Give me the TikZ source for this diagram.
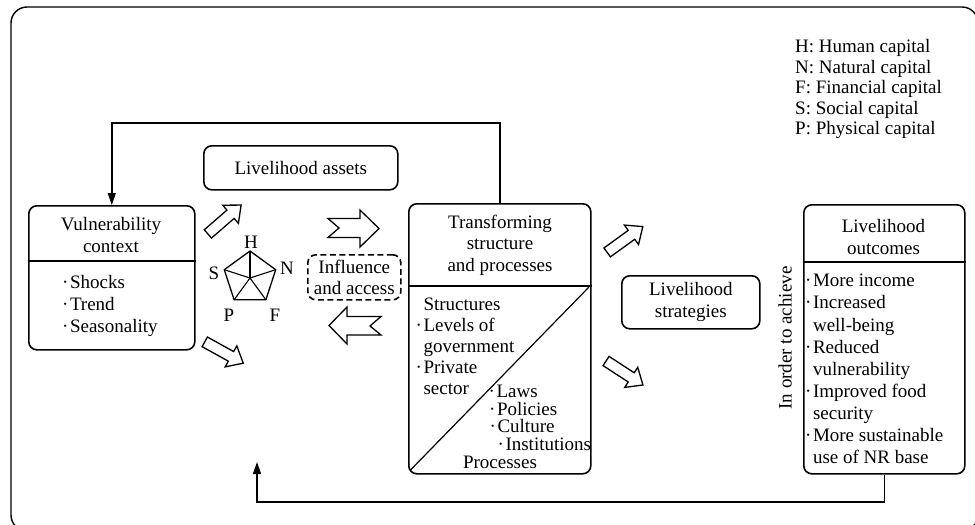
\documentclass[tikz,border=0pt]{standalone}
\usepackage{fontspec}
\setmainfont{Liberation Serif}
\usetikzlibrary{arrows.meta,calc}
\newcommand\bul{·\hspace{1.5pt}}
\newcommand\ind{\phantom{\bul}}
\begin{document}
\begin{tikzpicture}[x=1pt,y=-1pt,
  boxst/.style={draw,line width=1.6pt,rounded corners=8pt,inner sep=0pt,anchor=north west},
  txt/.style={font=\fontsize{19}{22}\selectfont,inner sep=0pt},
  conn/.style={line width=1.4pt},
  tipst/.style={-{Triangle[length=12pt,width=8pt]}},
  barrow/.style={draw,line width=1.3pt,fill=white,line join=miter},
  blockarr/.pic={\draw[barrow] (-22,-5.5) -- (8,-5.5) -- (8,-12) -- (22,0) -- (8,12) -- (8,5.5) -- (-22,5.5) -- cycle;}
]
\useasboundingbox (0,0) rectangle (975,525);
% outer frame
\draw[line width=1.4pt,rounded corners=16pt] (11,7) rectangle (978,531);

% boxes
\node[boxst,minimum width=194pt,minimum height=44pt] (assets) at (203,145) {};
\node[txt] (assetst) at (assets.center) {Livelihood assets};

\node[boxst,minimum width=166pt,minimum height=144pt] (vul) at (28,205) {};
\draw[line width=1.4pt] (vul.west |- 0,261) -- (vul.east |- 0,261);
\node[txt,align=center] (vult) at (111,235) {Vulnerability\\context};
\node[txt,align=left,anchor=west] (vull) at (62,306) {\bul Shocks\\\bul Trend\\\bul Seasonality};

\node[boxst,dashed,dash pattern=on 6pt off 3.5pt,minimum width=93pt,minimum height=45pt] (infl) at (307,254) {};
\node[txt,align=center,font=\fontsize{19}{21}\selectfont] (inflt) at (infl.center) {Influence\\and access};

\node[boxst,minimum width=182pt,minimum height=270pt] (trans) at (408,203) {};
\draw[line width=1.4pt] (trans.west |- 0,286) -- (trans.east |- 0,286);
\draw[line width=1.2pt] (410.5,470) -- (589,287);
\node[txt,align=center,font=\fontsize{19}{21.5}\selectfont] (transt) at (500,245) {Transforming\\structure\\and processes};
\node[txt,align=left,anchor=west,font=\fontsize{19}{21}\selectfont] (struct) at (415.5,346) {\ind Structures\\\bul Levels of\\\ind government\\\bul Private\\\ind sector};
\node[txt,align=left,anchor=west,font=\fontsize{19}{17.6}\selectfont] (proclist) at (488.5,418) {\bul Laws\\\hspace*{0.5pt}\bul Policies\\\hspace*{1pt}\bul Culture\\\hspace*{9pt}\bul Institutions};
\node[txt] (proc) at (500,462) {Processes};

\node[boxst,minimum width=138pt,minimum height=53pt] (strat) at (621,275) {};
\node[txt,align=center] (stratt) at (strat.center) {Livelihood\\strategies};

\node[boxst,minimum width=161pt,minimum height=269pt] (out) at (803,204) {};
\draw[line width=1.4pt] (out.west |- 0,262) -- (out.east |- 0,262);
\node[txt,align=center] (outt) at (883.5,237) {Livelihood\\outcomes};
\node[txt,align=left,anchor=west,font=\fontsize{19}{22.1}\selectfont] (outl) at (805,369) {\bul More income\\\bul Increased\\\ind well-being\\\bul Reduced\\\ind vulnerability\\\bul Improved food\\\ind security\\\bul More sustainable\\\ind use of NR base};
\node[txt,rotate=90] (order) at (785,338) {In order to achieve};

% legend
\node[txt,align=left,anchor=west,font=\fontsize{19}{20.5}\selectfont] (legend) at (795,89) {H: Human capital\\N: Natural capital\\F: Financial capital\\S: Social capital\\P: Physical capital};

% pentagon
\coordinate (pc) at (250,278);
\coordinate (pH) at (250,251);
\coordinate (pN) at (275.7,269.7);
\coordinate (pF) at (265.9,299.8);
\coordinate (pP) at (234.1,299.8);
\coordinate (pS) at (224.3,269.7);
\draw[line width=1.3pt,line join=round] (pH) -- (pN) -- (pF) -- (pP) -- (pS) -- cycle;
\foreach \v in {pH,pN,pF,pP,pS} \draw[line width=1.1pt] (pc) -- (\v);
\node[txt] (lH) at (251,242) {H};
\node[txt] (lN) at (287,268) {N};
\node[txt] (lF) at (275,315) {F};
\node[txt] (lP) at (229,315) {P};
\node[txt] (lS) at (214,273) {S};

% block arrows
\pic[rotate=41] at (224.5,219.5) {blockarr};
\pic[rotate=-29] at (224,352.5) {blockarr};
\pic[rotate=36] at (625,239.5) {blockarr};
\pic[rotate=-33] at (624.5,373) {blockarr};
\draw[barrow] (328,218.5) -- (360,218.5) -- (360,210) -- (379,228.5) -- (360,247) -- (360,237.5) -- (328,237.5) -- (339,228) -- cycle;
\draw[barrow] (381,316.5) -- (347,316.5) -- (347,307) -- (329,325.5) -- (347,344) -- (347,335) -- (381,335) -- (370,326) -- cycle;

% connectors
\draw[conn,tipst] (trans.north) -- (trans.north |- 0,123) -| (vul.north);
\coordinate (fb) at (257,462);
\draw[conn,tipst] (out.south) -- (out.south |- 0,502) -| (fb);
\end{tikzpicture}
\end{document}
